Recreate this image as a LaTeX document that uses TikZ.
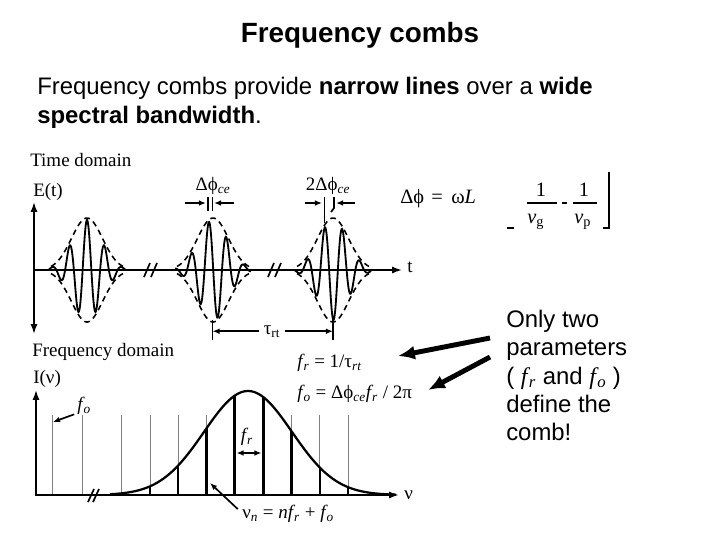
\documentclass[tikz,border=0pt]{standalone}
\usepackage{fontspec}
\setmainfont{Liberation Sans}
\newfontfamily\tnr{Liberation Serif}
\usetikzlibrary{arrows.meta}

\tikzset{
  slide/.style={font=\fontsize{17}{20}\selectfont, inner sep=0pt, anchor=base west},
  lbl/.style={font=\tnr\fontsize{13.5}{16}\selectfont, inner sep=0pt},
  eqn/.style={font=\tnr\fontsize{14.5}{17}\selectfont, inner sep=0pt, anchor=base},
  axis/.style={line width=1.2pt},
  tip/.style={-{Latex[length=7pt,width=5pt]}},
  dim/.style={line width=1.2pt, -{Latex[length=5pt,width=4pt]}},
  bigarrow/.style={line width=3.5pt, -{Latex[length=12pt,width=10pt]}},
  env/.style={line width=1.1pt, dash pattern=on 4pt off 3pt},
  wave/.style={line width=1.3pt, smooth},
  faint/.style={line width=0.6pt, gray},
  tooth/.style={line width=1.6pt},
  bigtooth/.style={line width=2.2pt}
}

\newcommand{\ff}[1]{\textit{f}\kern-0.06em\textsubscript{\textit{#1}}}

\begin{document}
\begin{tikzpicture}[x=0.025cm, y=-0.025cm]
  \fill[white] (0,0) rectangle (720,540);
  \useasboundingbox (0,0) rectangle (720,540);

  % slide text
  \node[font=\bfseries\fontsize{19.8}{24}\selectfont, inner sep=0pt, anchor=base] (title) at (360,42) {Frequency combs};
  \node[slide] (intro1) at (37,94) {Frequency combs provide \textbf{narrow lines} over a \textbf{wide}};
  \node[slide] (intro2) at (37,123) {\textbf{spectral bandwidth}.};

  % time domain
  \node[lbl, anchor=base west] (tdom) at (30,166) {Time domain};
  \node[lbl, anchor=base west] (Et) at (33,196) {E(t)};
  \draw[axis, {Latex[length=7pt,width=5pt]}-{Latex[length=7pt,width=5pt]}] (34,202) -- (34,334);
  \draw[axis, tip] (34,270) -- (402,270);
  \node[lbl, anchor=base west] (tlab) at (407,272) {t};
  \foreach \b in {144, 268} {
    \draw[axis] (\b,277) -- (\b+6,263);
    \draw[axis] (\b+7,277) -- (\b+13,263);
  }
  \foreach \c/\p in {87/0, 213/85, 333/170} {
    \draw[wave, samples=161, domain=-38:38]
      plot ({\c+\x}, {270-50*exp(-(\x/20.5)*(\x/20.5))*cos(360*\x/17.5+\p)});
    \draw[env, samples=60, domain=-36:36]
      plot ({\c+\x}, {270-52*exp(-(\x/22)*(\x/22))});
    \draw[env, samples=60, domain=-36:36]
      plot ({\c+\x}, {270+52*exp(-(\x/22)*(\x/22))});
  }

  % phase slip marks
  \node[lbl, anchor=base] (dce) at (213,190) {Δϕ\textsubscript{\textit{ce}}};
  \draw[dim] (185,203) -- (206,203);
  \draw[dim] (234,203) -- (214,203);
  \draw[axis] (208,197) -- (208,211);
  \draw[axis] (212.5,197) -- (212.5,211);
  \node[lbl, anchor=base] (dce2) at (328,190) {2Δϕ\textsubscript{\textit{ce}}};
  \draw[dim] (305,203) -- (322,203);
  \draw[dim] (355,203) -- (336,203);
  \draw[axis] (324.5,197) -- (324.5,223);
  \draw[axis] (334,197) -- (334,208) -- (331,212);

  % round trip time
  \coordinate (tb1) at (212.5,331);
  \coordinate (tb2) at (333,331);
  \draw[axis] (212.5,320) -- (212.5,340);
  \draw[axis] (333,320) -- (333,340);
  \node[lbl, anchor=base] (trt) at (272,334) {τ\textsubscript{rt}};
  \draw[dim] ([xshift=-3pt]trt.west) -- (trt.west -| tb1);
  \draw[dim] ([xshift=3pt]trt.east) -- (trt.east -| tb2);

  % dispersion formula
  \node[eqn, anchor=base west] (dphi) at (400,203) {Δϕ};
  \node[eqn] (eq) at (437,203) {=};
  \node[eqn, anchor=base west] (wl) at (451,203) {ω\textit{L}};
  \node[eqn] (one1) at (541,196) {1};
  \draw[line width=0.8pt] (527,203) -- (557,203);
  \node[eqn, anchor=base west] (vg) at (527,223) {\textit{v}\textsubscript{g}};
  \draw[line width=0.8pt] (562,203) -- (567,203);
  \node[eqn] (one2) at (584,196) {1};
  \draw[line width=0.8pt] (573,203) -- (597,203);
  \node[eqn, anchor=base west] (vp) at (574,223) {\textit{v}\textsubscript{p}};
  \draw[line width=0.8pt] (603,228) -- (609,228) -- (609,172);
  \draw[line width=0.8pt] (507,228) -- (514,228);

  % frequency domain
  \node[lbl, anchor=base west] (fdom) at (32,356) {Frequency domain};
  \node[lbl, anchor=base west] (Inu) at (33,383) {I(ν)};
  \draw[axis, tip] (36,496) -- (36,390);
  \foreach \xx in {52.7,82.3,121.7,150,178.3,206.6,234.9,263.2,291.5,319.8,348.1}
    \draw[faint] (\xx,415) -- (\xx,495);
  \foreach \xx in {150,178.3,206.6,291.5,319.8,348.1} {
    \pgfmathsetmacro\u{(\xx-248)/44}
    \pgfmathsetmacro\h{495-104*exp(-0.5*(\u)*(\u))}
    \draw[tooth] (\xx,495) -- (\xx,\h);
  }
  \foreach \xx in {234.9,263.2} {
    \pgfmathsetmacro\u{(\xx-248)/44}
    \pgfmathsetmacro\h{495-104*exp(-0.5*(\u)*(\u))}
    \draw[bigtooth] (\xx,495) -- (\xx,\h);
  }
  \draw[line width=1.6pt, smooth, samples=120, domain=110:396]
    plot (\x, {495-104*exp(-0.5*((\x-248)/44)*((\x-248)/44))});
  \draw[axis, line width=1.5pt, tip] (36,495) -- (399,495);
  \draw[axis] (88,502) -- (94,489);
  \draw[axis] (93,502) -- (99,489);
  \node[lbl, anchor=base west] (nu) at (404,499) {ν};

  % comb labels
  \node[lbl, anchor=base west] (fo) at (77,410) {\ff{o}};
  \coordinate (fotip) at (53,422);
  \draw[dim] ([xshift=-2pt]fo.south west) -- (fotip);
  \node[lbl, anchor=base] (fr) at (247,441) {\ff{r}};
  \draw[dim, {Latex[length=5pt,width=4pt]}-{Latex[length=5pt,width=4pt]}] (236.5,453) -- (261.5,453);
  \node[lbl, anchor=base west] (nun) at (242,518) {ν\textsubscript{\textit{n}} = \textit{n}\ff{r} + \ff{o}};
  \coordinate (nutip) at (210,483);
  \draw[dim] ([xshift=-3pt,yshift=3pt]nun.west) -- (nutip);
  \node[lbl, anchor=base west] (frdef) at (297,367) {\ff{r} = 1/τ\textsubscript{\textit{rt}}};
  \node[lbl, anchor=base west] (fodef) at (297,398) {\ff{o} = Δϕ\textsubscript{\textit{ce}}\ff{r} / 2π};

  % note on the right
  \node[slide] (n1) at (506,327) {Only two};
  \node[slide] (n2) at (506,355) {parameters};
  \node[slide] (n3) at (506,384) {( {\tnr\ff{r}} and {\tnr\ff{o}} )};
  \node[slide] (n4) at (506,412) {define the};
  \node[slide] (n5) at (506,440) {comb!};
  \coordinate (a1) at (490,338);
  \coordinate (a2) at (490,357);
  \coordinate (t1) at (398,356);
  \coordinate (t2) at (428,390);
  \draw[bigarrow] (a1) -- (t1);
  \draw[bigarrow] (a2) -- (t2);
\end{tikzpicture}
\end{document}
